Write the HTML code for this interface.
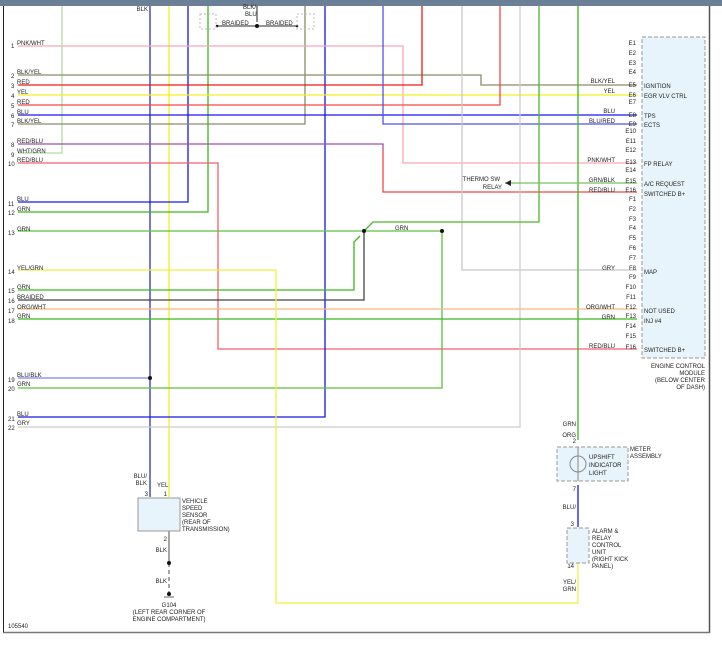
<!DOCTYPE html><html><head><meta charset="utf-8"><style>body{margin:0;background:#fff}svg{display:block}text{font-family:"Liberation Sans",sans-serif;font-size:6px;fill:#222}</style></head><body>
<svg width="722" height="646" viewBox="0 0 722 646" xmlns="http://www.w3.org/2000/svg">
<rect x="0" y="0" width="722" height="6" fill="#6b8096"/>
<line x1="3.5" y1="6" x2="3.5" y2="633" stroke="#222" stroke-width="1"/>
<line x1="709.5" y1="6" x2="709.5" y2="633" stroke="#555" stroke-width="1.5"/>
<line x1="3" y1="632.5" x2="710" y2="632.5" stroke="#777" stroke-width="1.5"/>
<g fill="none" stroke-width="1.3">
<polyline points="62,6 62,153 18,153" stroke="#b5dca5"/>
<line x1="150" y1="6" x2="150" y2="497" stroke="#3030b8"/>
<line x1="169" y1="6" x2="169" y2="497" stroke="#f2f21a"/>
<polyline points="188,6 188,202 18,202" stroke="#1818f0"/>
<polyline points="208,6 208,212 18,212" stroke="#3cb81c"/>
<polyline points="18,163 218,163 218,349 637,349" stroke="#f0606a"/>
<polyline points="305,6 305,124 18,124" stroke="#8a8a6a"/>
<polyline points="325,6 325,417 18,417" stroke="#1818e0"/>
<polyline points="18,46 403,46 403,163 637,163" stroke="#f8a8b8"/>
<polyline points="18,75 481,75 481,85 637,85" stroke="#8a8a6a"/>
<polyline points="18,85 422,85 422,6" stroke="#f01818"/>
<line x1="18" y1="95" x2="637" y2="95" stroke="#f0f020"/>
<polyline points="18,105 500,105 500,6" stroke="#f04848"/>
<line x1="18" y1="115" x2="637" y2="115" stroke="#1818f0"/>
<polyline points="383,6 383,124 637,124" stroke="#5050f0"/>
<polyline points="18,144 383,144 383,150" stroke="#a050a8"/>
<polyline points="383,150 383,192 637,192" stroke="#f04848"/>
<polyline points="462,6 462,270 637,270" stroke="#c8c8c8"/>
<polyline points="520,6 520,427 18,427" stroke="#cccccc"/>
<polyline points="539,6 539,222 373,222 364,231" stroke="#4cb82c"/>
<line x1="578" y1="6" x2="578" y2="440" stroke="#3cb81c"/>
<line x1="18" y1="231" x2="442" y2="231" stroke="#5cc03c"/>
<polyline points="442,231 442,388 18,388" stroke="#5cc03c"/>
<polyline points="18,290 354,290 354,242 360,236" stroke="#3cb81c"/>
<polyline points="18,300 364,300 364,231" stroke="#444"/>
<line x1="18" y1="309" x2="637" y2="309" stroke="#f8b880"/>
<line x1="18" y1="319" x2="637" y2="319" stroke="#3cb81c"/>
<line x1="18" y1="378" x2="150" y2="378" stroke="#8080f0"/>
<polyline points="18,270 276,270 276,603 578,603 578,563" stroke="#f0f040"/>
<line x1="505" y1="183" x2="637" y2="183" stroke="#78c060"/>
<line x1="578" y1="485" x2="578" y2="527" stroke="#1818f0"/>
<line x1="169" y1="531" x2="169" y2="563" stroke="#777"/>
<line x1="169" y1="563" x2="169" y2="592" stroke="#777" stroke-dasharray="4,3"/>
<line x1="257" y1="6" x2="257" y2="22" stroke="#555"/>
<polyline points="217,26 297,26" stroke="#555"/>
</g>
<polygon points="505,183 511,180 511,186" fill="#222"/>
<g fill="#111"><circle cx="150" cy="378" r="2"/><circle cx="364" cy="231" r="2"/><circle cx="442" cy="231" r="2"/><circle cx="257" cy="26" r="2"/><circle cx="217" cy="26" r="1.3"/><circle cx="297" cy="26" r="1.3"/><circle cx="169" cy="563" r="2"/><circle cx="169" cy="594" r="2"/></g>
<line x1="164" y1="597" x2="174" y2="597" stroke="#666"/>
<g fill="none" stroke="#bbb" stroke-dasharray="2,2"><rect x="200" y="14" width="16" height="15"/><rect x="297" y="14" width="17" height="15"/></g>
<rect x="642" y="37" width="63" height="321" fill="#e8f4fb" stroke="#999" stroke-dasharray="4,2"/>
<rect x="138" y="498" width="42" height="33" fill="#e8f4fb" stroke="#999"/>
<rect x="557" y="447" width="71" height="34" fill="#e8f4fb" stroke="#999" stroke-dasharray="4,2"/>
<rect x="567" y="528" width="22" height="35" fill="#e8f4fb" stroke="#999" stroke-dasharray="4,2"/>
<circle cx="578" cy="464" r="8" fill="none" stroke="#888"/><line x1="578" y1="447" x2="578" y2="481" stroke="#888"/>
<g text-anchor="end">
<text x="636" y="45">E1</text><text x="636" y="55">E2</text><text x="636" y="65">E3</text><text x="636" y="74">E4</text><text x="636" y="87">E5</text><text x="636" y="97">E6</text><text x="636" y="104">E7</text><text x="636" y="117">E8</text><text x="636" y="126">E9</text><text x="636" y="133">E10</text><text x="636" y="143">E11</text><text x="636" y="152">E12</text><text x="636" y="164">E13</text><text x="636" y="172">E14</text><text x="636" y="183">E15</text><text x="636" y="192">E16</text><text x="636" y="201">F1</text><text x="636" y="211">F2</text><text x="636" y="221">F3</text><text x="636" y="230">F4</text><text x="636" y="240">F5</text><text x="636" y="250">F6</text><text x="636" y="260">F7</text><text x="636" y="270">F8</text><text x="636" y="279">F9</text><text x="636" y="289">F10</text><text x="636" y="299">F11</text><text x="636" y="309">F12</text><text x="636" y="318">F13</text><text x="636" y="328">F14</text><text x="636" y="338">F15</text><text x="636" y="349">F16</text>
<text x="615" y="83">BLK/YEL</text><text x="615" y="93">YEL</text><text x="615" y="113">BLU</text><text x="615" y="123">BLU/RED</text><text x="615" y="162">PNK/WHT</text><text x="615" y="182">GRN/BLK</text><text x="615" y="192">RED/BLU</text><text x="615" y="270">GRY</text><text x="615" y="309">ORG/WHT</text><text x="615" y="319">GRN</text><text x="615" y="348">RED/BLU</text>
<text x="500" y="181">THERMO SW</text><text x="502" y="189">RELAY</text>
<text x="705" y="368">ENGINE CONTROL</text><text x="705" y="375">MODULE</text><text x="705" y="382">(BELOW CENTER</text><text x="705" y="389">OF DASH)</text>
<text x="148" y="11">BLK</text><text x="147" y="478">BLU/</text><text x="147" y="485">BLK</text><text x="148" y="496">3</text><text x="167" y="496">1</text><text x="167" y="541">2</text><text x="167" y="552">BLK</text><text x="167" y="583">BLK</text>
<text x="576" y="426">GRN</text><text x="576" y="437">ORG</text><text x="576" y="443">2</text><text x="576" y="491">7</text><text x="576" y="509">BLU/</text><text x="574" y="526">3</text><text x="574" y="568">14</text><text x="576" y="584">YEL/</text><text x="576" y="591">GRN</text>
</g>
<g>
<text x="11" y="48">1</text><text x="11" y="78">2</text><text x="11" y="88">3</text><text x="11" y="98">4</text><text x="11" y="108">5</text><text x="11" y="118">6</text><text x="11" y="127">7</text><text x="11" y="147">8</text><text x="11" y="157">9</text><text x="8" y="166">10</text><text x="8" y="206">11</text><text x="8" y="215">12</text><text x="8" y="235">13</text><text x="8" y="274">14</text><text x="8" y="293">15</text><text x="8" y="303">16</text><text x="8" y="313">17</text><text x="8" y="323">18</text><text x="8" y="382">19</text><text x="8" y="391">20</text><text x="8" y="421">21</text><text x="8" y="430">22</text>
<text x="17" y="45">PNK/WHT</text><text x="17" y="74">BLK/YEL</text><text x="17" y="84">RED</text><text x="17" y="94">YEL</text><text x="17" y="104">RED</text><text x="17" y="114">BLU</text><text x="17" y="123">BLK/YEL</text><text x="17" y="143">RED/BLU</text><text x="17" y="153">WHT/GRN</text><text x="17" y="162">RED/BLU</text><text x="17" y="201">BLU</text><text x="17" y="211">GRN</text><text x="17" y="231">GRN</text><text x="17" y="270">YEL/GRN</text><text x="17" y="289">GRN</text><text x="17" y="299">BRAIDED</text><text x="17" y="309">ORG/WHT</text><text x="17" y="318">GRN</text><text x="17" y="377">BLU/BLK</text><text x="17" y="386">GRN</text><text x="17" y="416">BLU</text><text x="17" y="425">GRY</text>
<text x="243" y="9">BLK/</text><text x="245" y="16">BLU</text><text x="222" y="25">BRAIDED</text><text x="266" y="25">BRAIDED</text>
<text x="395" y="230">GRN</text>
<text x="644" y="88">IGNITION</text><text x="644" y="98">EGR VLV CTRL</text><text x="644" y="118">TPS</text><text x="644" y="127">ECTS</text><text x="644" y="166">FP RELAY</text><text x="644" y="186">A/C REQUEST</text><text x="644" y="196">SWITCHED B+</text><text x="644" y="274">MAP</text><text x="644" y="313">NOT USED</text><text x="644" y="323">INJ #4</text><text x="644" y="352">SWITCHED B+</text>
<text x="157" y="487">YEL</text>
<text x="182" y="503">VEHICLE</text><text x="182" y="510">SPEED</text><text x="182" y="517">SENSOR</text><text x="182" y="524">(REAR OF</text><text x="182" y="531">TRANSMISSION)</text>
<text x="589" y="459">UPSHIFT</text><text x="589" y="467">INDICATOR</text><text x="589" y="475">LIGHT</text>
<text x="630" y="451">METER</text><text x="630" y="458">ASSEMBLY</text>
<text x="592" y="533">ALARM &amp;</text><text x="592" y="540">RELAY</text><text x="592" y="547">CONTROL</text><text x="592" y="554">UNIT</text><text x="592" y="561">(RIGHT KICK</text><text x="592" y="568">PANEL)</text>
<text x="8" y="628">105540</text>
</g>
<g text-anchor="middle"><text x="169" y="607">G104</text><text x="169" y="614">(LEFT REAR CORNER OF</text><text x="169" y="621">ENGINE COMPARTMENT)</text></g>
</svg></body></html>
